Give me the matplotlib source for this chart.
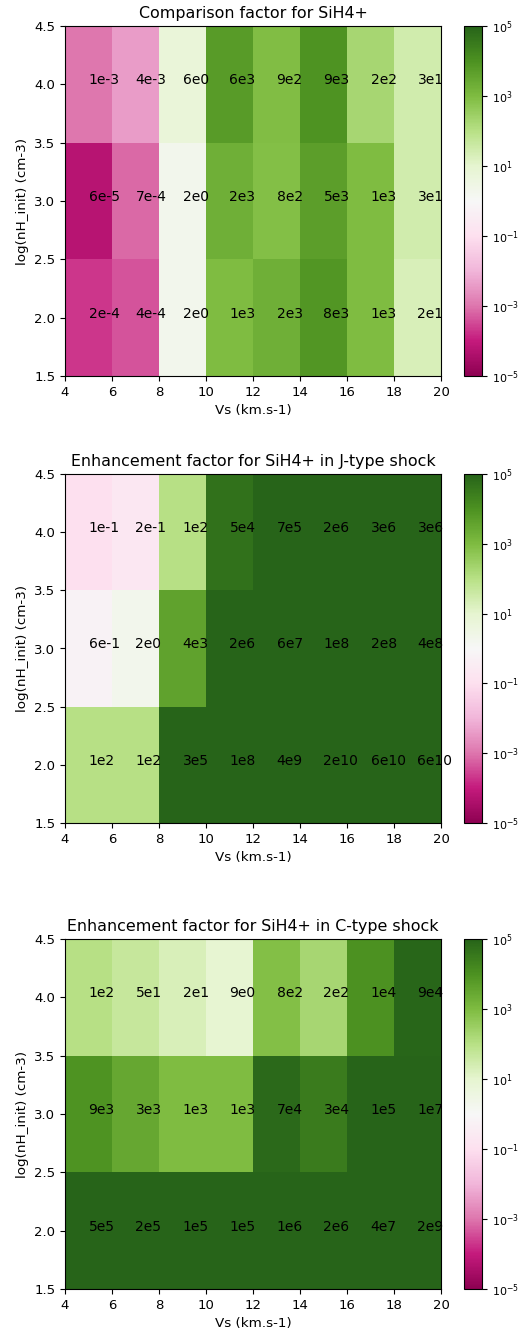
import numpy as np
import matplotlib
matplotlib.use("Agg")
import matplotlib.pyplot as plt
from matplotlib.colors import LogNorm

vs_edges = [4, 6, 8, 10, 12, 14, 16, 18, 20]
nh_edges = [1.5, 2.5, 3.5, 4.5]
vs_centers = [5, 7, 9, 11, 13, 15, 17, 19]
nh_centers = [2.0, 3.0, 4.0]

# rows: nH = 2.0, 3.0, 4.0 ; columns: Vs = 5..19
comparison = [
    [2e-4, 4e-4, 2e0, 1e3, 2e3, 8e3, 1e3, 2e1],
    [6e-5, 7e-4, 2e0, 2e3, 8e2, 5e3, 1e3, 3e1],
    [1e-3, 4e-3, 6e0, 6e3, 9e2, 9e3, 2e2, 3e1],
]
jtype = [
    [1e2, 1e2, 3e5, 1e8, 4e9, 2e10, 6e10, 6e10],
    [6e-1, 2e0, 4e3, 2e6, 6e7, 1e8, 2e8, 4e8],
    [1e-1, 2e-1, 1e2, 5e4, 7e5, 2e6, 3e6, 3e6],
]
ctype = [
    [5e5, 2e5, 1e5, 1e5, 1e6, 2e6, 4e7, 2e9],
    [9e3, 3e3, 1e3, 1e3, 7e4, 3e4, 1e5, 1e7],
    [1e2, 5e1, 2e1, 9e0, 8e2, 2e2, 1e4, 9e4],
]
titles = [
    "Comparison factor for SiH4+",
    "Enhancement factor for SiH4+ in J-type shock",
    "Enhancement factor for SiH4+ in C-type shock",
]
datasets = [comparison, jtype, ctype]
cbar_ticks = [1e-5, 1e-3, 1e-1, 1e1, 1e3, 1e5]

def fmt(v):
    e = int(np.floor(np.log10(v) + 1e-9))
    m = int(round(v / 10**e))
    if m == 10:
        m = 1
        e += 1
    return f"{m}e{e}"

W, H = 522, 1332
fig = plt.figure(figsize=(W / 100, H / 100), dpi=100)

boxes = [(26, 376), (474, 823), (939, 1289)]
left_px, right_px = 65, 441
cb_left, cb_w = 464, 18
norm = LogNorm(vmin=1e-5, vmax=1e5)

for (top, bot), data, title in zip(boxes, datasets, titles):
    ax = fig.add_axes([left_px / W, 1 - bot / H, (right_px - left_px) / W, (bot - top) / H])
    cax = fig.add_axes([cb_left / W, 1 - bot / H, cb_w / W, (bot - top) / H])
    arr = np.array(data)
    mesh = ax.pcolormesh(vs_edges, nh_edges, arr, cmap="PiYG", norm=norm)
    for i, y in enumerate(nh_centers):
        for j, x in enumerate(vs_centers):
            ax.text(x, y, fmt(arr[i, j]), fontsize=10, color="black")
    ax.set_xticks(vs_edges)
    ax.set_yticks([1.5, 2.0, 2.5, 3.0, 3.5, 4.0, 4.5])
    ax.set_xlim(4, 20)
    ax.set_ylim(1.5, 4.5)
    ax.tick_params(labelsize=9.5)
    ax.set_xlabel("Vs (km.s-1)", fontsize=9.7)
    ax.set_ylabel("log(nH_init) (cm-3)", fontsize=9.7)
    ax.set_title(title, fontsize=11.4)
    cb = fig.colorbar(mesh, cax=cax)
    cb.set_ticks(cbar_ticks)
    cb.ax.minorticks_off()
    cb.ax.tick_params(labelsize=8)

fig.savefig("out.png", dpi=100)
